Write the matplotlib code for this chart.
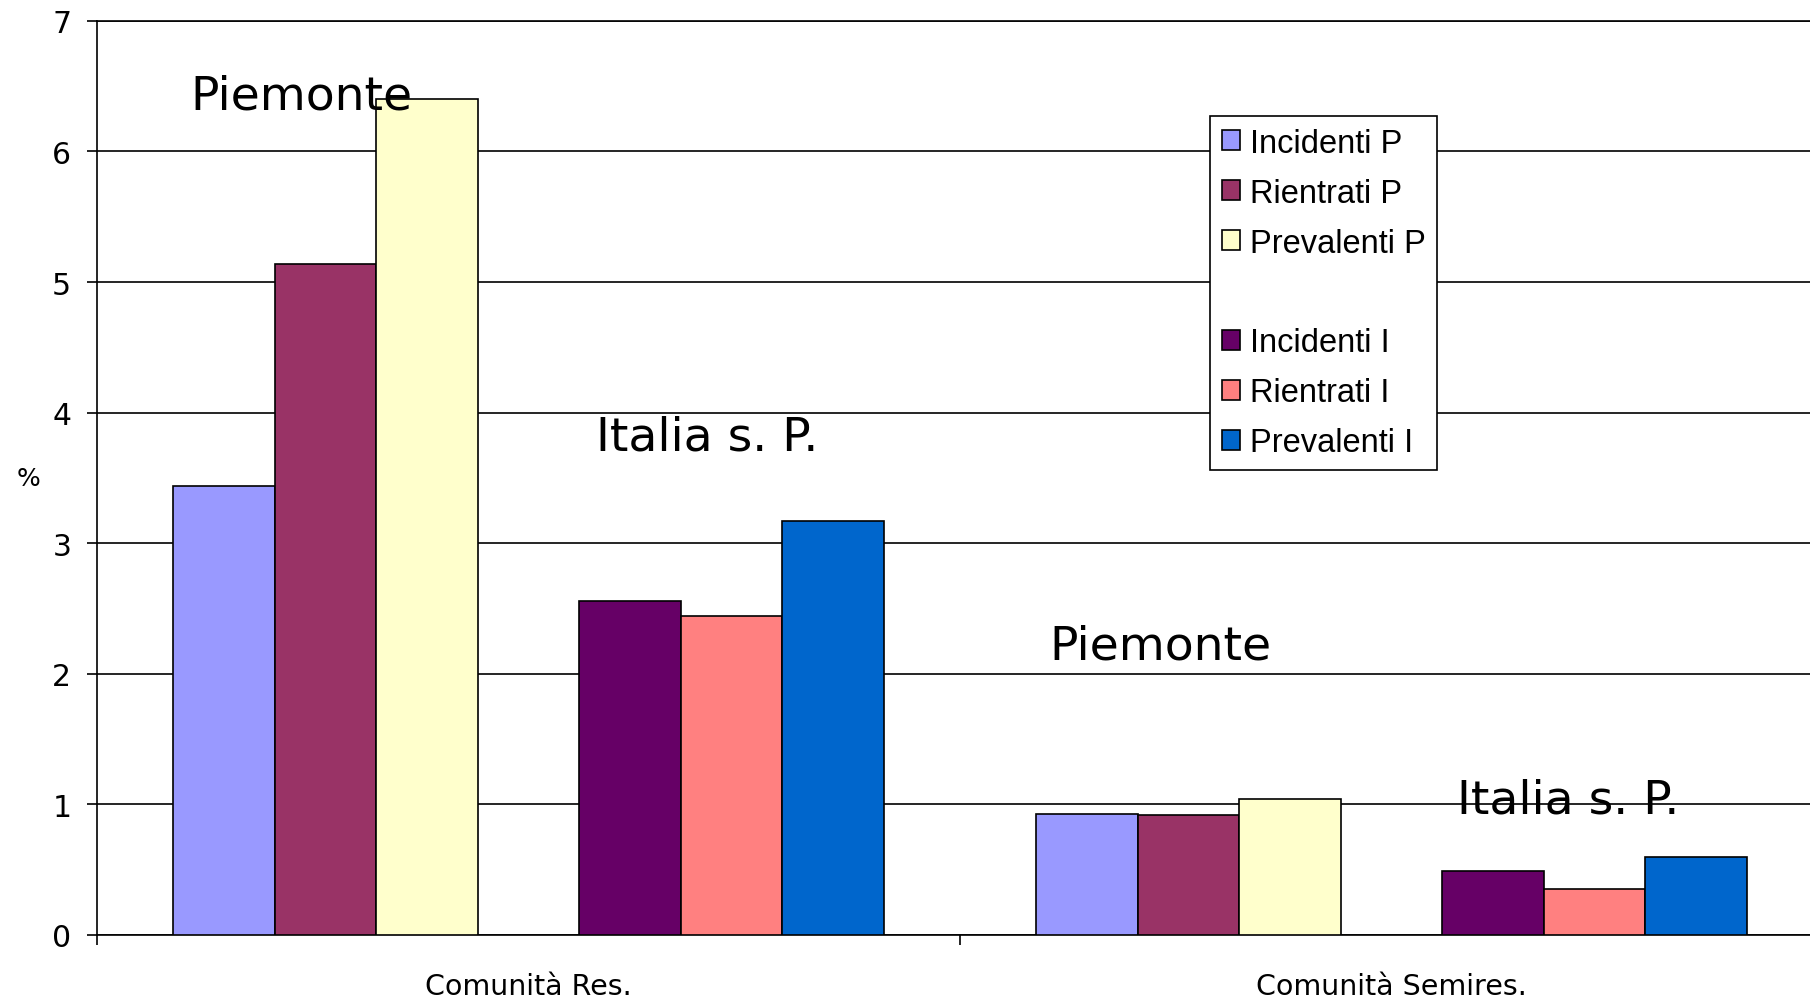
import matplotlib
matplotlib.use("Agg")
import matplotlib.pyplot as plt
from matplotlib.patches import Patch
import numpy as np

categories = ["Comunità Res.", "Comunità Semires."]
series_labels = ["Incidenti P", "Rientrati P", "Prevalenti P", "",
                 "Incidenti I", "Rientrati I", "Prevalenti I"]
incidenti_p = [3.44, 0.93]
rientrati_p = [5.14, 0.92]
prevalenti_p = [6.40, 1.04]
blank = [0.0, 0.0]
incidenti_i = [2.56, 0.49]
rientrati_i = [2.44, 0.35]
prevalenti_i = [3.17, 0.60]
series_values = [incidenti_p, rientrati_p, prevalenti_p, blank,
                 incidenti_i, rientrati_i, prevalenti_i]
colors = ["#9999FF", "#993366", "#FFFFCC", "none", "#660066", "#FF8080", "#0066CC"]
yticks = [0, 1, 2, 3, 4, 5, 6, 7]

fig = plt.figure(figsize=(18.10, 10.03), dpi=100)
ax = fig.add_axes([97 / 1810, 1 - 936 / 1003, (1823 - 97) / 1810, (936 - 21.9) / 1003])

n = len(series_values)
w = 1 / 8.5
x = np.arange(len(categories))
handles = []
for i, (vals, col, lab) in enumerate(zip(series_values, colors, series_labels)):
    offs = (i - (n - 1) / 2) * w
    if lab == "":
        handles.append(Patch(facecolor="none", edgecolor="none", label=" "))
        continue
    bars = ax.bar(x + offs, vals, width=w, color=col, edgecolor="black",
                  linewidth=1.2, label=lab, zorder=3)
    handles.append(bars)

ax.set_xlim(-0.5, 1.5)
ax.set_ylim(0, 7)
ax.set_yticks(yticks)
ax.set_yticklabels([str(t) for t in yticks], fontsize=21.5, family="DejaVu Sans")
ax.tick_params(axis="y", direction="out", length=7.5, width=1.2, pad=11)

ax.set_xticks([-0.5, 0.5, 1.5])
ax.set_xticklabels([])
ax.tick_params(axis="x", which="major", direction="out", length=7.5, width=1.2)
ax.set_xticks(x, minor=True)
ax.set_xticklabels(categories, minor=True, fontsize=20.5, family="DejaVu Sans")
ax.tick_params(axis="x", which="minor", length=0, pad=27)

ax.yaxis.grid(True, color="black", linewidth=1.2, zorder=0)
ax.set_axisbelow(True)
for s in ["right"]:
    ax.spines[s].set_visible(False)
for s in ["left", "bottom", "top"]:
    ax.spines[s].set_linewidth(1.2)
    ax.spines[s].set_color("black")

fig.text(28 / 1810, 1 - 479 / 1003, "%", fontsize=18, ha="center", va="center",
         family="DejaVu Sans")

ann_fs = 34
ax.text(-0.392, 6.33, "Piemonte", fontsize=ann_fs, ha="left", va="baseline", zorder=4)
ax.text(0.078, 3.72, "Italia s. P.", fontsize=ann_fs, ha="left", va="baseline", zorder=4)
ax.text(0.604, 2.12, "Piemonte", fontsize=ann_fs, ha="left", va="baseline", zorder=4)
ax.text(1.076, 0.94, "Italia s. P.", fontsize=ann_fs, ha="left", va="baseline", zorder=4)

leg = fig.legend(handles=handles, labels=[h.get_label() for h in handles],
                 loc="upper left", bbox_to_anchor=(1210 / 1810, 1 - 117 / 1003),
                 borderaxespad=0, fancybox=False, framealpha=1, edgecolor="black",
                 prop={"family": "Liberation Sans", "size": 23.5},
                 handlelength=0.56, handleheight=0.56, handletextpad=0.3,
                 labelspacing=0.58, borderpad=0.36)
leg.get_frame().set_linewidth(1.2)
leg.set_zorder(5)

fig.savefig("out.png", dpi=100)
